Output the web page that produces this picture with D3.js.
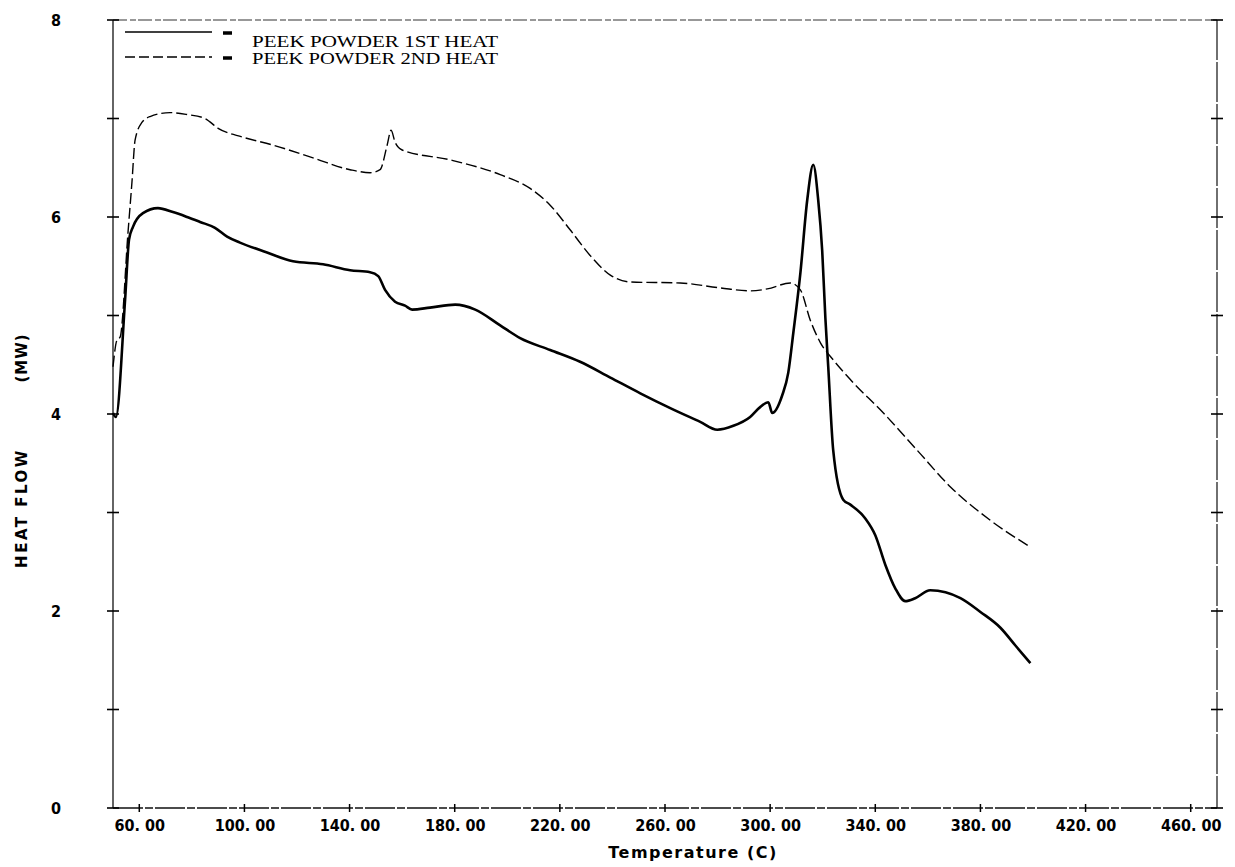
<!DOCTYPE html>
<html>
<head>
<meta charset="utf-8">
<script src="https://cdn.jsdelivr.net/npm/d3@7"></script>
<style>
  body { margin: 0; background: #fff; }
  svg { display: block; }
</style>
</head>
<body>
<svg id="chart" width="1235" height="867"></svg>
<script>
// PEEK powder DSC scan
const firstHeatT  = [50, 51.1, 54.6, 56.1, 57.6, 61.4, 67.1, 72.8, 78.2, 83.1, 88.8, 93.4, 98.3, 108.6, 118.5, 129.9, 140.2, 147.8, 150.9, 153.5, 157.3, 161.1, 163.8, 170.6, 180.2, 187.8, 197.3, 204.9, 216.3, 227.7, 239.2, 250.6, 262.0, 273.4, 279.9, 286.0, 292.4, 296.2, 299.3, 300.8, 304.6, 306.9, 308.8, 311.5, 314.1, 316.4, 318.3, 319.8, 321.0, 322.1, 324.0, 327.8, 330.5, 336.2, 340.0, 343.8, 347.6, 351.4, 355.2, 360.9, 366.7, 372.4, 380.0, 387.6, 393.3, 399.0]
const firstHeatHF = [4.01, 3.97, 5.16, 5.77, 5.90, 6.04, 6.09, 6.05, 6.00, 5.95, 5.89, 5.80, 5.74, 5.64, 5.55, 5.52, 5.46, 5.44, 5.40, 5.26, 5.14, 5.10, 5.06, 5.08, 5.11, 5.06, 4.90, 4.77, 4.65, 4.53, 4.37, 4.21, 4.06, 3.92, 3.84, 3.88, 3.97, 4.07, 4.12, 4.01, 4.19, 4.42, 4.82, 5.43, 6.17, 6.53, 6.17, 5.66, 4.98, 4.48, 3.63, 3.13, 3.08, 2.94, 2.77, 2.47, 2.23, 2.10, 2.13, 2.21, 2.19, 2.13, 1.99, 1.83, 1.65, 1.47]

const secondHeatT  = [50, 51.5, 52.7, 55.7, 57.2, 58.4, 61.0, 64.1, 71.7, 78.2, 85.0, 90.0, 99.5, 110.9, 126.1, 140.2, 147.8, 151.6, 154.3, 155.8, 157.3, 160.0, 178.3, 197.3, 208.7, 216.3, 223.9, 231.5, 239.2, 246.8, 265.8, 281.0, 292.4, 298.9, 307.7, 311.5, 315.3, 319.2, 324.0, 330.5, 343.1, 356.0, 368.6, 383.8, 399.0]
const secondHeatHF = [4.48, 4.75, 4.78, 5.84, 6.35, 6.78, 6.96, 7.02, 7.06, 7.04, 7.00, 6.90, 6.81, 6.73, 6.60, 6.48, 6.45, 6.48, 6.73, 6.88, 6.76, 6.68, 6.58, 6.43, 6.29, 6.12, 5.87, 5.61, 5.41, 5.34, 5.33, 5.28, 5.25, 5.27, 5.33, 5.26, 4.95, 4.72, 4.55, 4.35, 4.01, 3.63, 3.26, 2.92, 2.65]

const xTicks = [60, 100, 140, 180, 220, 260, 300, 340, 380, 420, 460]
const yTicks = [0, 1, 2, 3, 4, 5, 6, 7, 8]
const yLabels = [0, 2, 4, 6, 8]
const legendNames = ["PEEK POWDER 1ST HEAT", "PEEK POWDER 2ND HEAT"]

const svg = d3.select("#chart")
const LEFT = 113, RIGHT = 1217, TOP = 20, BOTTOM = 808

let x = d3.scaleLinear().domain([50, 470]).range([LEFT, RIGHT])
let y = d3.scaleLinear().domain([0, 8]).range([BOTTOM, TOP])

// frame (scanned look: broken top line)
svg.append("line").attr("x1", LEFT).attr("x2", RIGHT).attr("y1", TOP).attr("y2", TOP)
    .style("stroke", "#333").style("stroke-width", 1.2).style("stroke-dasharray", "14,3,6,2")
svg.append("line").attr("x1", LEFT).attr("x2", RIGHT).attr("y1", BOTTOM).attr("y2", BOTTOM)
    .style("stroke", "#111").style("stroke-width", 1.3).style("stroke-dasharray", "30,2,8,2")
svg.append("line").attr("x1", LEFT).attr("x2", LEFT).attr("y1", TOP).attr("y2", BOTTOM)
    .style("stroke", "#111").style("stroke-width", 1.3)
svg.append("line").attr("x1", RIGHT).attr("x2", RIGHT).attr("y1", TOP).attr("y2", BOTTOM)
    .style("stroke", "#111").style("stroke-width", 1.2).style("stroke-dasharray", "40,2")

// bottom axis: crossing ticks + labels
let xAxis = svg.append("g").attr("transform", "translate(0," + BOTTOM + ")")
    .call(d3.axisBottom(x).tickValues(xTicks).tickSize(0).tickPadding(12)
        .tickFormat(d => d3.format(".2f")(d).replace(".", ". ")))
xAxis.select(".domain").remove()
xAxis.selectAll("text")
    .style("font-family", "'Liberation Sans Narrow', 'DejaVu Sans Condensed', sans-serif")
    .style("font-weight", "bold").style("font-size", "16px").style("fill", "#000")
xTicks.forEach(t => {
    svg.append("line").attr("x1", x(t)).attr("x2", x(t)).attr("y1", BOTTOM - 4).attr("y2", BOTTOM + 4)
        .style("stroke", "#000").style("stroke-width", 1.5)
})

// left and right axes: crossing ticks
yTicks.forEach(v => {
    [LEFT, RIGHT].forEach(px => {
        svg.append("line").attr("x1", px - 6).attr("x2", px + 6).attr("y1", y(v)).attr("y2", y(v))
            .style("stroke", "#000").style("stroke-width", 1.6)
    })
})
let yAxis = svg.append("g").attr("transform", "translate(" + LEFT + ",0)")
    .call(d3.axisLeft(y).tickValues(yLabels).tickSize(0).tickPadding(52).tickFormat(d3.format("d")))
yAxis.select(".domain").remove()
yAxis.selectAll("text")
    .style("font-family", "'Liberation Sans Narrow', 'DejaVu Sans Condensed', sans-serif")
    .style("font-weight", "bold").style("font-size", "16px").style("fill", "#000")

// axis titles
svg.append("text").text("Temperature (C)")
    .attr("x", 693).attr("y", 858)
    .style("font-family", "'DejaVu Sans', sans-serif").style("font-size", "16px")
    .style("font-weight", "bold").style("letter-spacing", "1.5px").style("text-anchor", "middle")
svg.append("text").text("HEAT FLOW")
    .attr("transform", "translate(27,508) rotate(-90)")
    .style("font-family", "'DejaVu Sans', sans-serif").style("font-size", "15px")
    .style("font-weight", "bold").style("letter-spacing", "2.5px").style("text-anchor", "middle")
svg.append("text").text("(MW)")
    .attr("transform", "translate(27,358) rotate(-90)")
    .style("font-family", "'DejaVu Sans', sans-serif").style("font-size", "15px")
    .style("font-weight", "bold").style("letter-spacing", "1px").style("text-anchor", "middle")

// curves
let line = d3.line().x(d => x(d[0])).y(d => y(d[1])).curve(d3.curveMonotoneX)
svg.append("path")
    .datum(d3.zip(secondHeatT, secondHeatHF))
    .attr("d", line)
    .style("fill", "none").style("stroke", "#000").style("stroke-width", 1.4)
    .style("stroke-dasharray", "11,4")
svg.append("path")
    .datum(d3.zip(firstHeatT, firstHeatHF))
    .attr("d", line)
    .style("fill", "none").style("stroke", "#000").style("stroke-width", 2.6)
    .style("stroke-linejoin", "round")

// legend
legendNames.forEach((name, i) => {
    let ly = 32 + i * 25
    svg.append("line").attr("x1", 125).attr("x2", 212).attr("y1", ly).attr("y2", ly)
        .style("stroke", "#000").style("stroke-width", 1.3)
        .style("stroke-dasharray", i === 0 ? null : "10,4")
    svg.append("line").attr("x1", 223).attr("x2", 232).attr("y1", ly + 1).attr("y2", ly + 1)
        .style("stroke", "#000").style("stroke-width", 3.5)
    svg.append("text").text(name)
        .attr("x", 252).attr("y", i === 0 ? 47 : 64)
        .attr("textLength", 246).attr("lengthAdjust", "spacingAndGlyphs")
        .style("font-family", "'Liberation Serif', 'Times New Roman', serif")
        .style("font-size", "17px").style("fill", "#000")
})
</script>
</body>
</html>
